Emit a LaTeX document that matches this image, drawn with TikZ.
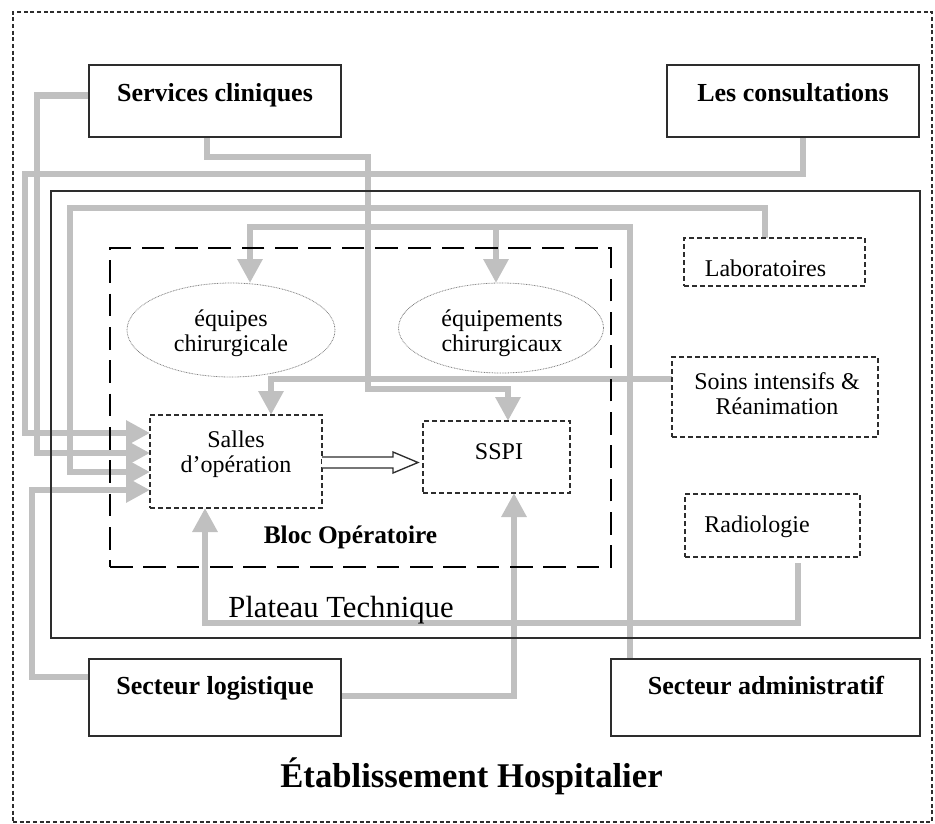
\documentclass[tikz,border=0pt]{standalone}
\usepackage{fontspec}
\setmainfont{Liberation Serif}
\usetikzlibrary{arrows.meta,calc,shapes.geometric}
\definecolor{flowgray}{RGB}{192,192,192}
\definecolor{edgecol}{RGB}{45,45,45}
\begin{document}
\begin{tikzpicture}[x=0.75pt,y=-0.75pt,
  sz/.style 2 args={minimum width=#1*0.75pt, minimum height=#2*0.75pt},
  plain/.style={inner sep=0pt, outer sep=0pt},
  solidbox/.style={plain, draw=edgecol, line width=0.9pt},
  dbox/.style={plain, draw=edgecol, line width=0.9pt, dash pattern=on 3.5pt off 2.5pt},
  blocbox/.style={plain, draw=black, line width=2pt, dash pattern=on 17pt off 8pt},
  ell/.style={plain, ellipse, draw=gray, line width=0.6pt, dash pattern=on 0.6pt off 0.6pt},
  outerbox/.style={plain, draw=edgecol, line width=0.8pt, dash pattern=on 3pt off 2pt},
  flow/.style={draw=flowgray, line width=4.8pt},
  flowarrow/.style={flow, -{Triangle[length=18pt,width=18pt]}},
  lbl/.style={font=\fontsize{18}{18.6}\selectfont, align=center, inner sep=0pt},
  blbl/.style={font=\fontsize{19.5}{20}\selectfont\bfseries, inner sep=0pt},
]
\useasboundingbox (0,0) rectangle (935,824);

% node positions (drawn first as invisible anchors, outlines drawn after the flows)
\node[plain, sz={919}{810}] (hosp) at (472.5,417) {};
\node[plain, sz={869}{447}] (plat) at (485.5,414.5) {};
\node[plain, sz={501}{319}] (bloc) at (360.5,407.5) {};
\node[plain, sz={252}{72}] (sc) at (215,101) {};
\node[plain, sz={252}{72}] (lc) at (793,101) {};
\node[plain, sz={252}{77}] (log) at (215,697.5) {};
\node[plain, sz={309}{77}] (adm) at (765.5,697.5) {};
\node[plain, sz={172}{93}] (sal) at (236,461.5) {};
\node[plain, sz={147}{72}] (sspi) at (496.5,457) {};
\node[plain, sz={181}{48}] (lab) at (774.5,262) {};
\node[plain, sz={206}{80}] (soins) at (775,397) {};
\node[plain, sz={175}{63}] (rad) at (772.5,525.5) {};
\node[plain, ellipse, sz={208}{94}] (eqc) at (231,330) {};
\node[plain, ellipse, sz={205}{90}] (eqm) at (501,328) {};

% connectors
\draw[flowarrow] ($(lc.south)+(10,0)$) |- (25,174) |- ($(sal.west)+(0,-28.5)$);
\draw[flowarrow] ($(sc.west)+(0,-5.5)$) -| (37,300) |- ($(sal.west)+(0,-8.5)$);
\draw[flowarrow] ($(lab.north)+(-9.5,0)$) |- (70,208) |- ($(sal.west)+(0,10.5)$);
\draw[flowarrow] ($(log.west)+(0,-20.5)$) -| (32,600) |- ($(sal.west)+(0,28.5)$);
\draw[flowarrow] ($(sc.south)+(-8,0)$) |- (368,157) |- (508,389) -- ($(sspi.north)+(11.5,0)$);
\draw[flowarrow] ($(soins.west)+(0,-18)$) -| ($(sal.north)+(35,0)$);
\draw[flowarrow] ($(adm.north)+(-135.5,0)$) |- (250,227) -- ($(eqc.north)+(19,0)$);
\draw[flowarrow] (496,227) -- ($(eqm.north)+(-5,0)$);
\draw[flowarrow] ($(rad.south)+(25.5,6)$) |- (205,623) -- ($(sal.south)+(-31,0)$);
\draw[flowarrow] ($(log.east)+(0,-1.5)$) -| ($(sspi.south)+(17.5,0)$);

% outlines on top of the flows
\node[outerbox, sz={919}{810}] at (hosp) {};
\node[solidbox, sz={869}{447}] at (plat) {};
\node[blocbox, sz={501}{319}] at (bloc) {};
\node[solidbox, sz={252}{72}] at (sc) {};
\node[solidbox, sz={252}{72}] at (lc) {};
\node[solidbox, sz={252}{77}] at (log) {};
\node[solidbox, sz={309}{77}] at (adm) {};
\node[dbox, sz={172}{93}] at (sal) {};
\node[dbox, sz={147}{72}] at (sspi) {};
\node[dbox, sz={181}{48}] at (lab) {};
\node[dbox, sz={206}{80}] at (soins) {};
\node[dbox, sz={175}{63}] at (rad) {};
\node[ell, sz={208}{94}] at (eqc) {};
\node[ell, sz={205}{90}] at (eqm) {};

% open double arrow Salles -> SSPI
\coordinate (oa) at ($(sal.east)+(0,1)$);
\draw[edgecol, line width=1pt, fill=white, line join=miter]
  (oa) ++(0,-5.5) -- ++(71,0) -- ++(0,-5) -- ++(25,10.5) -- ++(-25,10.5) -- ++(0,-5) -- ++(-71,0);

% texts
\node[blbl, anchor=base] (sct) at (215,101) {Services cliniques};
\node[blbl, anchor=base] (lct) at (793,102) {Les consultations};
\node[blbl, anchor=base] (logt) at (215,694) {Secteur logistique};
\node[blbl, anchor=base] (admt) at (766,694) {Secteur administratif};

\node[lbl, anchor=base] (labt) at (765.5,276) {Laboratoires};
\node[lbl] (soinst) at (777,393.5) {Soins intensifs \&\\Réanimation};
\node[lbl, anchor=base] (radt) at (757,532) {Radiologie};
\node[lbl] (salt) at (236,454) {Salles\\d’opération};
\node[lbl, anchor=base] (sspit) at (499,459) {SSPI};
\node[lbl] (eqct) at (231,333) {équipes\\chirurgicale};
\node[lbl] (eqmt) at (502,333) {équipements\\chirurgicaux};

\node[blbl, font=\fontsize{19}{20}\selectfont\bfseries, anchor=base] (bloct) at (350.5,543) {Bloc Opératoire};
\node[font=\fontsize{23}{24}\selectfont, inner sep=0pt, anchor=base] (platt) at (341,617) {Plateau Technique};
\node[font=\fontsize{26}{27}\selectfont\bfseries, inner sep=0pt, anchor=base] (hospt) at (471.5,787) {Établissement Hospitalier};
\end{tikzpicture}
\end{document}
